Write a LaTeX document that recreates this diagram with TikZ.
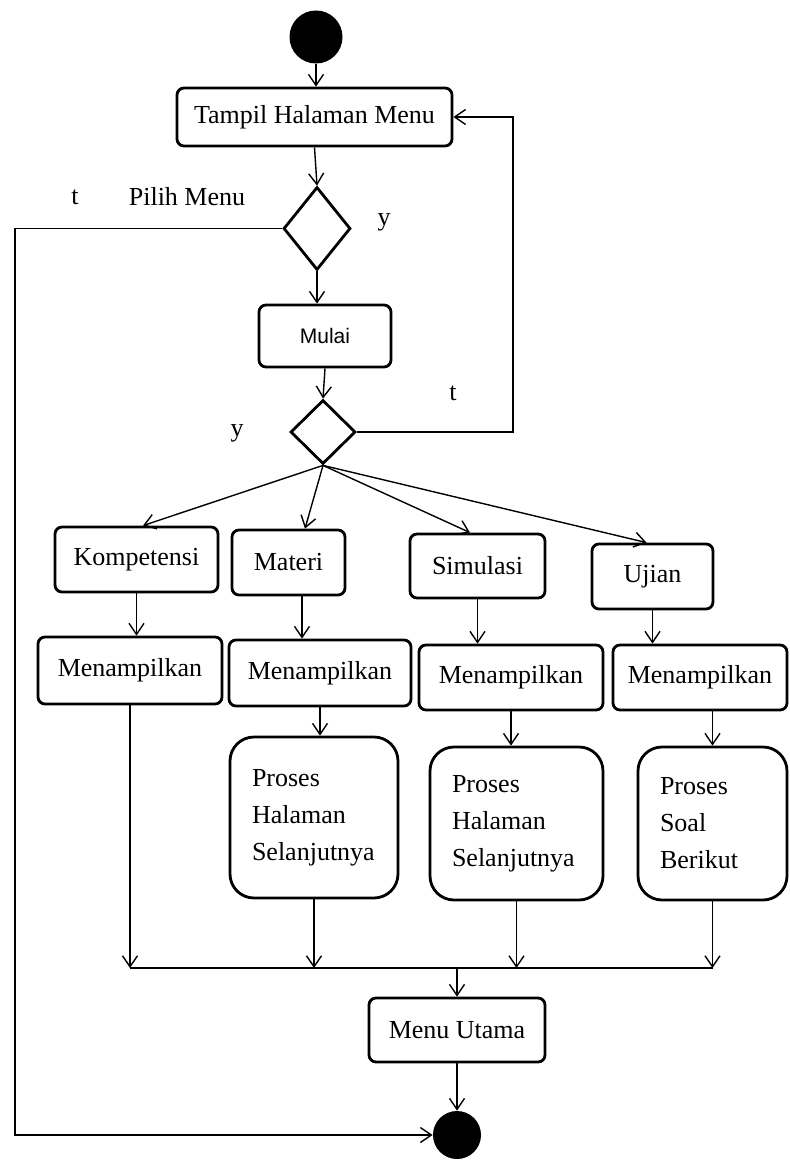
\documentclass[tikz,border=0pt]{standalone}
\usepackage{fontspec}
\setmainfont{Liberation Serif}
\newfontfamily\sansmulai{Liberation Sans}
\usepackage{tikz}
\usetikzlibrary{arrows.meta,shapes.geometric}

\begin{document}
\begin{tikzpicture}[x=0.5pt, y=-0.5pt,
  every node/.style={font=\fontsize{13}{18.5}\selectfont},
  box/.style={draw, line width=1.4pt, rounded corners=3.5pt, inner sep=0pt},
  procbox/.style={draw, line width=1.4pt, rounded corners=12pt, align=left,
                  inner xsep=11pt, inner ysep=0pt},
  choice/.style={draw, diamond, line width=1.4pt, inner sep=0pt},
  dot/.style={circle, fill=black, inner sep=0pt},
  arr/.style={-{Straight Barb[length=5.5pt,width=7.5pt]}, line width=0.7pt},
  lbl/.style={inner sep=0pt}]
  \useasboundingbox (0,0) rectangle (789,1166);

  % Start and menu
  \node[dot, minimum size=26.5pt] (start) at (316,37) {};
  \node[box, minimum width=137.5pt, minimum height=29pt] (tampil) at (314.5,117) {Tampil Halaman Menu};
  \node[choice, minimum width=33.5pt, minimum height=41.5pt] (pilih) at (317,228.5) {};
  \node[box, minimum width=66pt, minimum height=31pt,
        font=\sansmulai\fontsize{10.5}{12}\selectfont] (mulai) at (325,336) {Mulai};
  \node[choice, minimum width=32.5pt, minimum height=32pt] (cek) at (323,432) {};

  % Guard labels
  \node[lbl] (tA) at (75,197) {t};
  \node[lbl] (pilihlbl) at (187,197) {Pilih Menu};
  \node[lbl] (yA) at (384,222) {y};
  \node[lbl] (tB) at (453,393) {t};
  \node[lbl] (yB) at (237,433) {y};

  % Four menu branches
  \node[box, minimum width=81.5pt, minimum height=32.5pt] (komp) at (136.5,559.5) {Kompetensi};
  \node[box, minimum width=56.5pt, minimum height=32.5pt] (materi) at (288.5,562.5) {Materi};
  \node[box, minimum width=67.5pt, minimum height=32pt] (simulasi) at (477.5,566) {Simulasi};
  \node[box, minimum width=60.5pt, minimum height=32.5pt] (ujian) at (652.5,576.5) {Ujian};

  \node[box, minimum width=92pt, minimum height=33.5pt] (tampilA) at (130,670.5) {Menampilkan};
  \node[box, minimum width=91pt, minimum height=33pt] (tampilB) at (320,673) {Menampilkan};
  \node[box, minimum width=92pt, minimum height=32.5pt] (tampilC) at (511,677.5) {Menampilkan};
  \node[box, minimum width=87pt, minimum height=32.5pt] (tampilD) at (700,677.5) {Menampilkan};

  \node[procbox, text width=62pt, minimum height=80.5pt] (prosesA) at (314,817.5) {Proses\\Halaman\\Selanjutnya};
  \node[procbox, text width=64.5pt, minimum height=76.5pt] (prosesB) at (516.5,823.5) {Proses\\Halaman\\Selanjutnya};
  \node[procbox, text width=52.5pt, minimum height=76.5pt] (prosesC) at (712.5,823.5) {Proses\\Soal\\Berikut};

  % End
  \node[box, minimum width=88pt, minimum height=32pt] (utama) at (457,1030) {Menu Utama};
  \node[dot, minimum size=24pt] (akhir) at (457,1135) {};

  \coordinate (kiri) at (15,0);
  \coordinate (kanan) at (513,0);
  \coordinate (gabung) at (457,968);

  % Main flow
  \draw[arr] (start.south) -- (start.south |- tampil.north);
  \draw[arr] (tampil.south) -- (pilih.north);
  \draw[arr] (pilih.south) -- (pilih.south |- mulai.north);
  \draw[arr] (mulai.south) -- (cek.north);
  \draw[arr] (pilih.west) -- (pilih.west -| kiri) |- (akhir.west);
  \draw[arr] (cek.east) -- (cek.east -| kanan) |- (tampil.east);

  % Fan out
  \draw[arr] (cek.south) -- ([xshift=3.25pt]komp.north);
  \draw[arr] (cek.south) -- ([xshift=8.25pt]materi.north);
  \draw[arr] (cek.south) -- ([xshift=-3.75pt]simulasi.north);
  \draw[arr] (cek.south) -- ([xshift=-3pt]ujian.north);

  \draw[arr] (komp.south) -- (komp.south |- tampilA.north);
  \draw[arr] ([xshift=6.75pt]materi.south) -- ([xshift=6.75pt]materi.south |- tampilB.north);
  \draw[arr] (simulasi.south) -- (simulasi.south |- tampilC.north);
  \draw[arr] (ujian.south) -- (ujian.south |- tampilD.north);
  \draw[arr] (tampilB.south) -- (tampilB.south |- prosesA.north);
  \draw[arr] (tampilC.south) -- (tampilC.south |- prosesB.north);
  \draw[arr] (prosesC.north |- tampilD.south) -- (prosesC.north);

  % Merge
  \draw[line width=0.7pt] (tampilA.south |- gabung) -- (prosesC.south |- gabung);
  \draw[arr] (tampilA.south) -- (tampilA.south |- gabung);
  \draw[arr] (prosesA.south) -- (prosesA.south |- gabung);
  \draw[arr] (prosesB.south) -- (prosesB.south |- gabung);
  \draw[arr] (prosesC.south) -- (prosesC.south |- gabung);
  \draw[arr] (gabung) -- (utama.north);
  \draw[arr] (utama.south) -- (akhir.north);
\end{tikzpicture}
\end{document}
